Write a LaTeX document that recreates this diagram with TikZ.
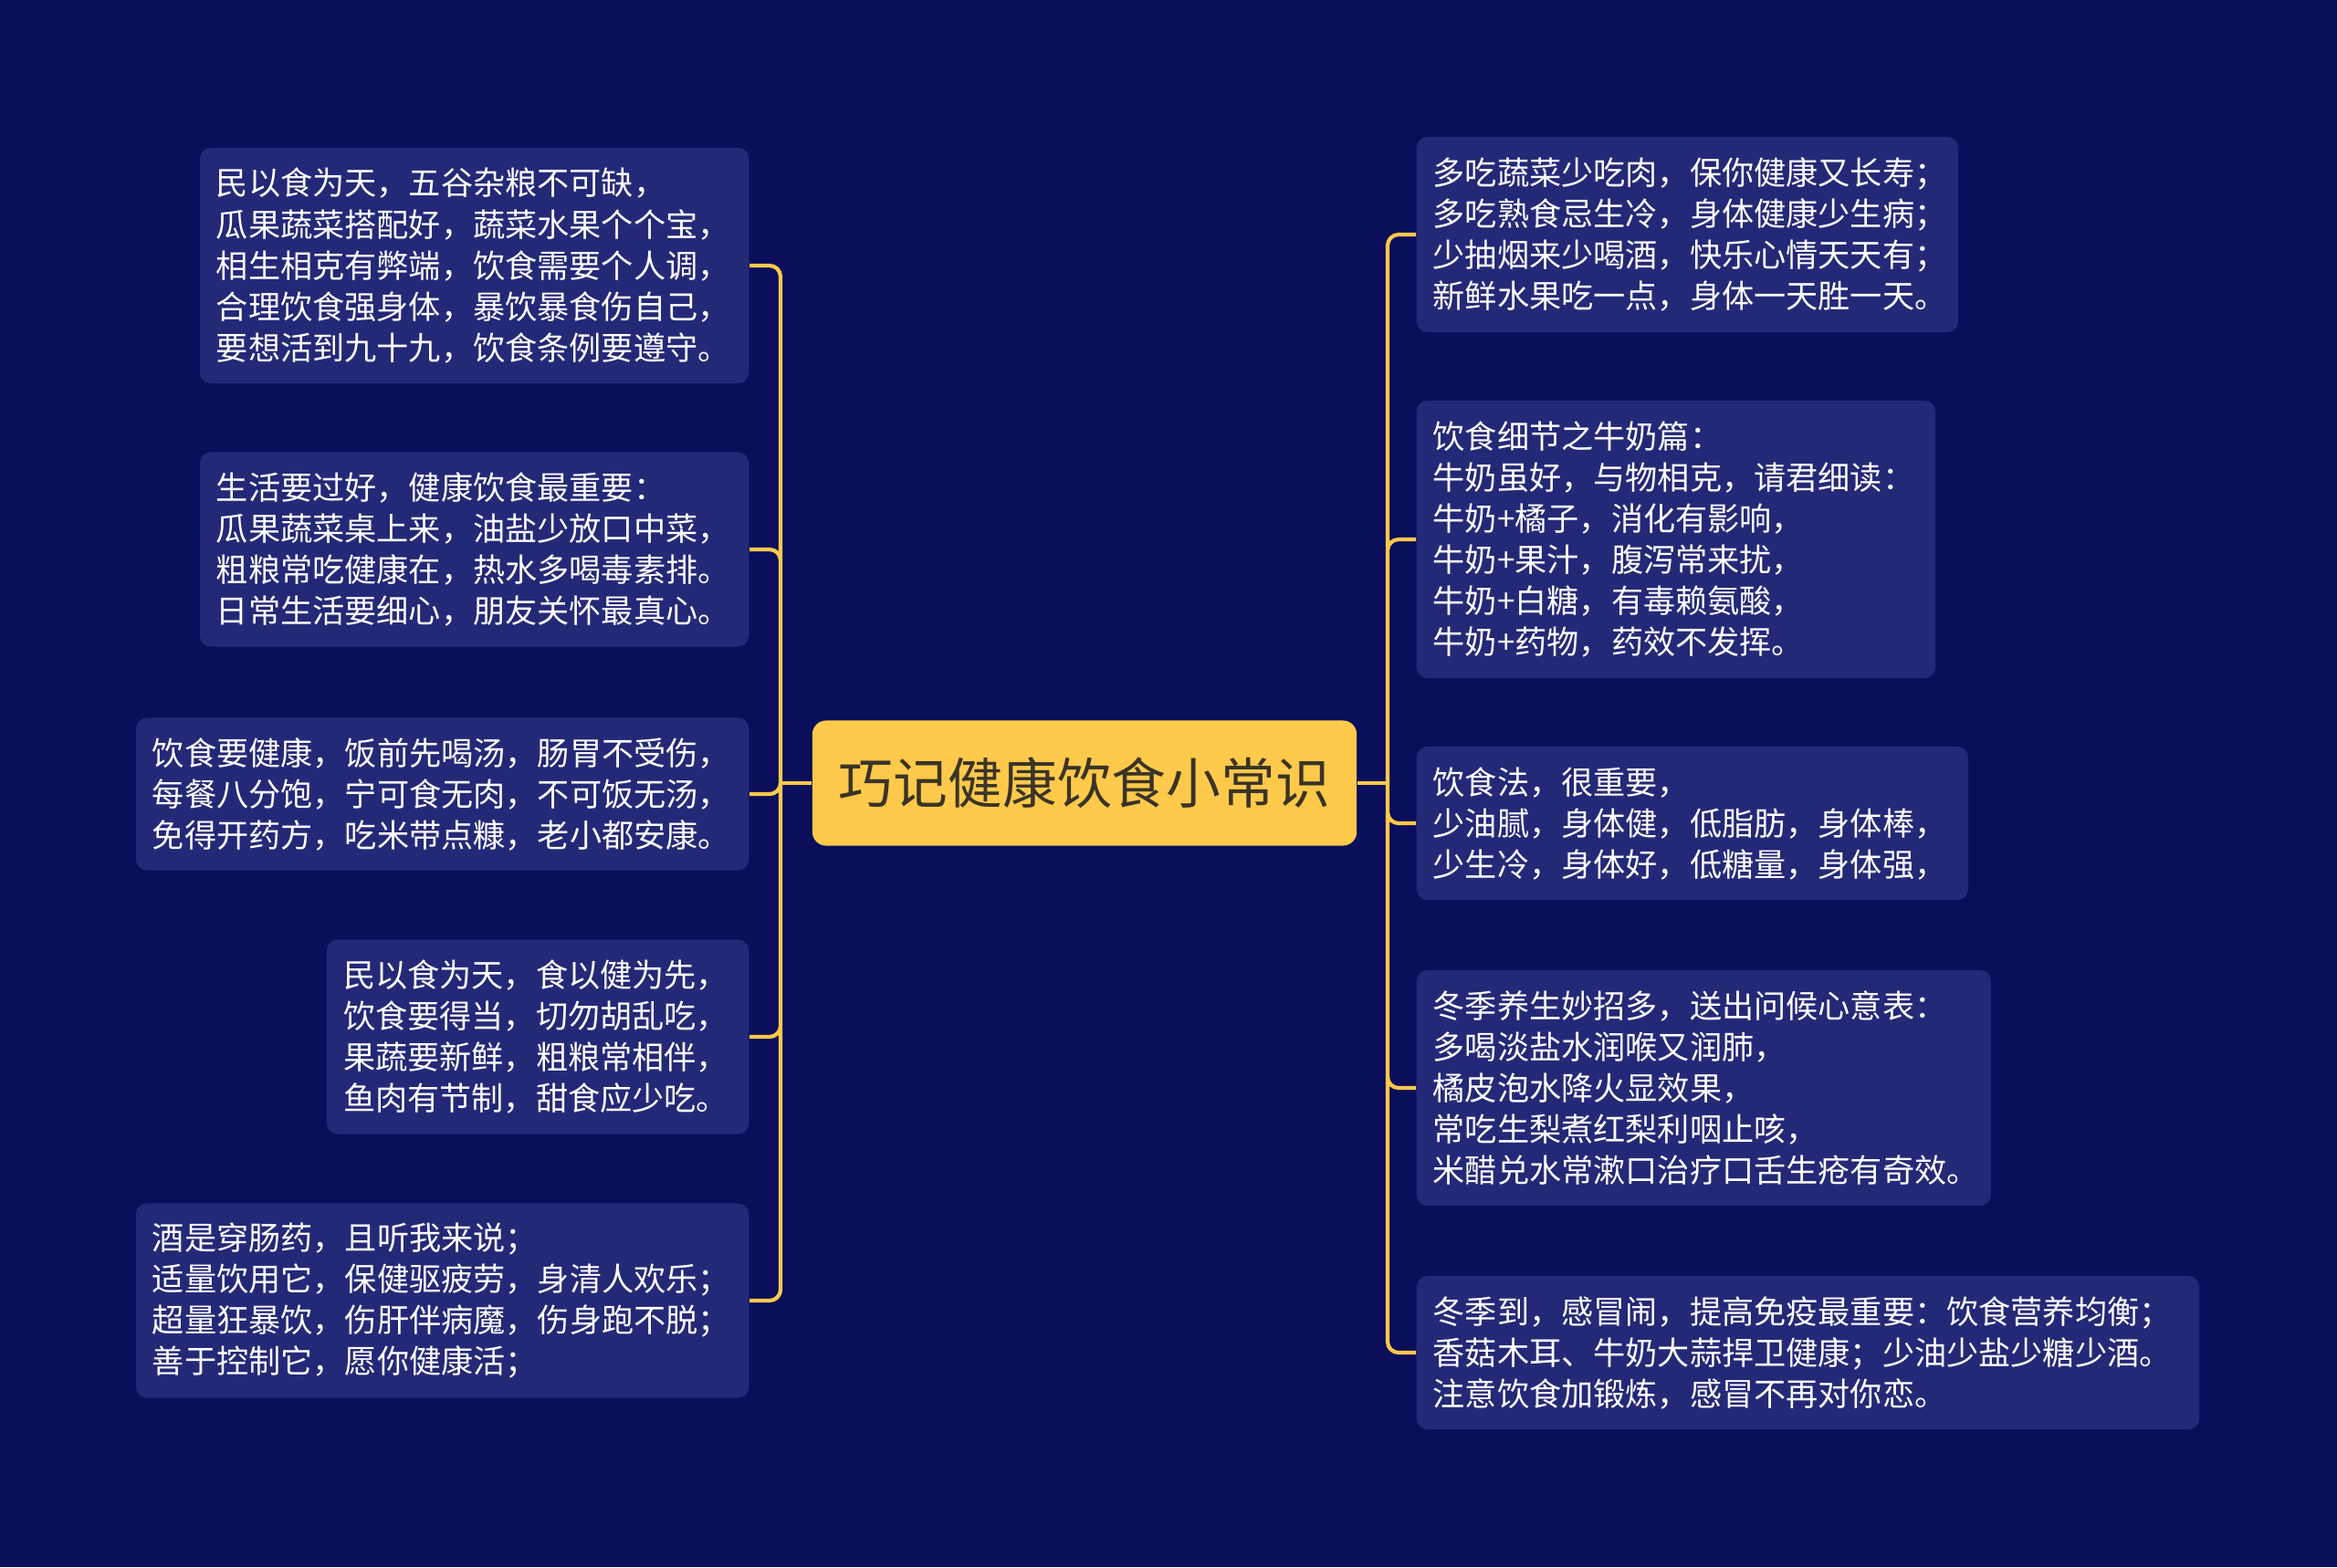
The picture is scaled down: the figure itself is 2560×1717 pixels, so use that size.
\documentclass[tikz,border=0pt]{standalone}
\usepackage{fontspec}
\setmainfont{Noto Sans CJK SC}
\usepackage{tikz}
\usetikzlibrary{positioning}
\definecolor{bgnavy}{RGB}{11,14,90}
\definecolor{leafbg}{RGB}{36,41,119}
\definecolor{gold}{RGB}{255,201,75}
\definecolor{roottext}{RGB}{58,52,38}
\tikzstyle{mmap}=[x=0.01cm, y=-0.01cm]
\tikzstyle{topic}=[fill=gold, rounded corners=0.15cm, text=roottext,
                font=\fontsize{17pt}{20pt}\selectfont, minimum width=5.96cm,
                minimum height=1.37cm, inner sep=0]
\tikzstyle{leaf}=[fill=leafbg, rounded corners=0.12cm, text=white, align=left,
                inner xsep=0.18cm, inner ysep=0.1cm,
                font=\fontsize{10pt}{12.8pt}\selectfont]
\tikzstyle{branch}=[draw=gold, line width=1.2pt, rounded corners=0.12cm]

\begin{document}
\begin{tikzpicture}[mmap]
    \useasboundingbox (0,0) rectangle (2560,1717);
    \fill[bgnavy] (0,0) rectangle (2560,1717);
    \node[topic] (root) at (1188,858) {巧记健康饮食小常识};
    \coordinate (lj) at (855,858);
    \coordinate (rj) at (1520,858);
    % left side
    \node[leaf, anchor=east, text width=5.65cm, minimum height=2.58cm] (l1) at (821,291)
      {民以食为天，五谷杂粮不可缺，\\瓜果蔬菜搭配好，蔬菜水果个个宝，\\相生相克有弊端，饮食需要个人调，\\合理饮食强身体，暴饮暴食伤自己，\\要想活到九十九，饮食条例要遵守。};
    \node[leaf, anchor=east, text width=5.65cm, minimum height=2.13cm] (l2) at (821,602)
      {生活要过好，健康饮食最重要：\\瓜果蔬菜桌上来，油盐少放口中菜，\\粗粮常吃健康在，热水多喝毒素排。\\日常生活要细心，朋友关怀最真心。};
    \node[leaf, anchor=east, text width=6.35cm, minimum height=1.67cm] (l3) at (821,870)
      {饮食要健康，饭前先喝汤，肠胃不受伤，\\每餐八分饱，宁可食无肉，不可饭无汤，\\免得开药方，吃米带点糠，老小都安康。};
    \node[leaf, anchor=east, text width=4.26cm, minimum height=2.13cm] (l4) at (821,1136)
      {民以食为天，食以健为先，\\饮食要得当，切勿胡乱吃，\\果蔬要新鲜，粗粮常相伴，\\鱼肉有节制，甜食应少吃。};
    \node[leaf, anchor=east, text width=6.35cm, minimum height=2.13cm] (l5) at (821,1425)
      {酒是穿肠药，且听我来说；\\适量饮用它，保健驱疲劳，身清人欢乐；\\超量狂暴饮，伤肝伴病魔，伤身跑不脱；\\善于控制它，愿你健康活；};
    % right side
    \node[leaf, anchor=west, text width=5.57cm, minimum height=2.14cm] (r1) at (1551,257)
      {多吃蔬菜少吃肉，保你健康又长寿；\\多吃熟食忌生冷，身体健康少生病；\\少抽烟来少喝酒，快乐心情天天有；\\新鲜水果吃一点，身体一天胜一天。};
    \node[leaf, anchor=west, text width=5.32cm, minimum height=3.04cm] (r2) at (1551,591)
      {饮食细节之牛奶篇：\\牛奶虽好，与物相克，请君细读：\\牛奶+橘子，消化有影响，\\牛奶+果汁，腹泻常来扰，\\牛奶+白糖，有毒赖氨酸，\\牛奶+药物，药效不发挥。};
    \node[leaf, anchor=west, text width=5.68cm, minimum height=1.68cm] (r3) at (1551,902)
      {饮食法，很重要，\\少油腻，身体健，低脂肪，身体棒，\\少生冷，身体好，低糖量，身体强，};
    \node[leaf, anchor=west, text width=5.93cm, minimum height=2.58cm] (r4) at (1551,1192)
      {冬季养生妙招多，送出问候心意表：\\多喝淡盐水润喉又润肺，\\橘皮泡水降火显效果，\\常吃生梨煮红梨利咽止咳，\\米醋兑水常漱口治疗口舌生疮有奇效。};
    \node[leaf, anchor=west, text width=8.21cm, minimum height=1.68cm] (r5) at (1551,1482)
      {冬季到，感冒闹，提高免疫最重要：饮食营养均衡；\\香菇木耳、牛奶大蒜捍卫健康；少油少盐少糖少酒。\\注意饮食加锻炼，感冒不再对你恋。};
    \draw[branch] (root.west) -- (lj) (root.east) -- (rj);
    \draw[branch]
      (lj) |- (l1.east) (lj) |- (l2.east) (lj) |- (l3.east)
      (lj) |- (l4.east) (lj) |- (l5.east);
    \draw[branch]
      (rj) |- (r1.west) (rj) |- (r2.west) (rj) |- (r3.west)
      (rj) |- (r4.west) (rj) |- (r5.west);
\end{tikzpicture}
\end{document}
